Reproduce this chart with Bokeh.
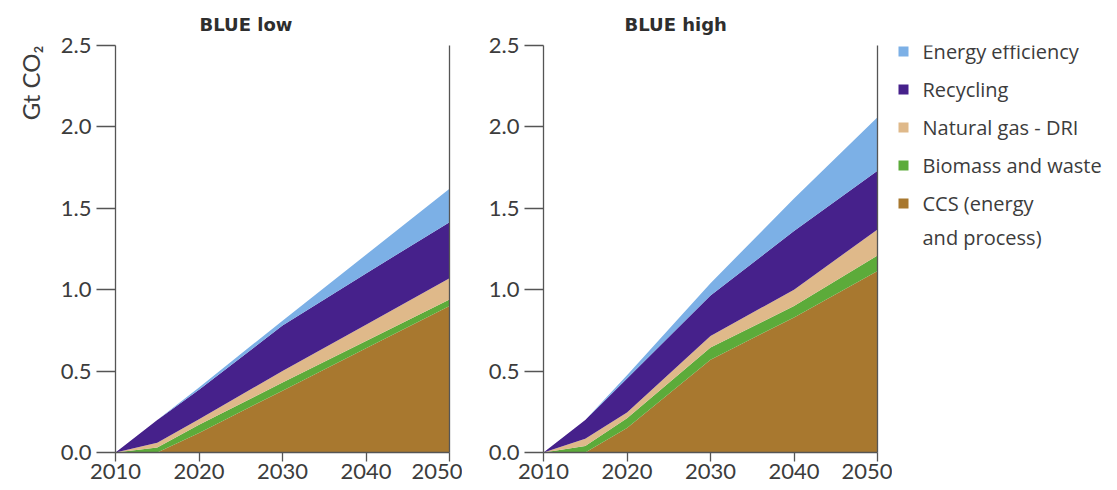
from bokeh.plotting import figure
from bokeh.models import (ColumnDataSource, Range1d, LinearAxis, Title, FixedTicker,
                          PrintfTickFormatter)
from bokeh.core.properties import value
from bokeh.layouts import row
from bokeh.embed import file_html
from bokeh.resources import INLINE

years = [2010, 2015, 2020, 2030, 2040, 2050]

series_keys = ["ccs", "biomass", "gas_dri", "recycling", "efficiency"]
series_names = ["CCS (energy\nand process)", "Biomass and waste", "Natural gas - DRI",
                "Recycling", "Energy efficiency"]
series_colors = ["#a8782f", "#5cab3a", "#dfb98a", "#46218b", "#7cb0e6"]

# BLUE low: emission reductions by option, Gt CO2 (stacked from the bottom)
low_ccs = [0.00, 0.00, 0.12, 0.38, 0.64, 0.90]
low_biomass = [0.00, 0.03, 0.05, 0.05, 0.045, 0.04]
low_gas_dri = [0.00, 0.03, 0.035, 0.07, 0.10, 0.13]
low_recycling = [0.00, 0.14, 0.18, 0.28, 0.315, 0.345]
low_efficiency = [0.00, 0.00, 0.015, 0.03, 0.115, 0.205]

# BLUE high
high_ccs = [0.00, 0.00, 0.15, 0.57, 0.83, 1.115]
high_biomass = [0.00, 0.04, 0.06, 0.075, 0.07, 0.095]
high_gas_dri = [0.00, 0.045, 0.035, 0.07, 0.10, 0.16]
high_recycling = [0.00, 0.115, 0.21, 0.25, 0.36, 0.36]
high_efficiency = [0.00, 0.00, 0.02, 0.075, 0.20, 0.33]

x_ticks = [2010, 2020, 2030, 2040, 2050]
y_ticks = [0.0, 0.5, 1.0, 1.5, 2.0, 2.5]

FONT = "Lato"
TXT = "#3c3c3c"
AXC = "#555555"
FRAME_TOP, FRAME_BOTTOM = 45, 452


def make_source(cols):
    data = dict(year=years)
    data.update({k: v for k, v in zip(series_keys, cols)})
    return ColumnDataSource(data)


def make_panel(title, src, left, right, title_offset):
    p = figure(width=left + 334 + right, height=490, frame_width=334,
               frame_height=FRAME_BOTTOM - FRAME_TOP,
               output_backend="svg", toolbar_location=None,
               x_range=Range1d(2010, 2050), y_range=Range1d(0, 2.5),
               min_border_left=left, min_border_right=right,
               min_border_top=FRAME_TOP, min_border_bottom=490 - FRAME_BOTTOM)
    p.outline_line_color = None
    p.xgrid.visible = False
    p.ygrid.visible = False
    p.background_fill_color = "white"
    p.border_fill_color = "white"

    p.varea_stack(stackers=series_keys, x="year", color=series_colors, source=src)

    for ax in (p.xaxis[0], p.yaxis[0]):
        ax.axis_line_color = AXC
        ax.axis_line_width = 1.3
        ax.major_tick_line_color = AXC
        ax.major_tick_line_width = 1.3
        ax.minor_tick_line_color = None
        ax.major_tick_in = 0
        ax.major_label_text_font = FONT
        ax.major_label_text_font_size = "22px"
        ax.major_label_text_color = TXT
    p.xaxis.ticker = FixedTicker(ticks=x_ticks)
    p.xaxis.major_tick_out = 9
    p.xaxis.major_label_standoff = 2
    p.yaxis.ticker = FixedTicker(ticks=y_ticks)
    p.yaxis.formatter = PrintfTickFormatter(format="%.1f")
    p.yaxis.major_tick_out = 19
    p.yaxis.major_label_standoff = 5

    edge = LinearAxis(ticker=FixedTicker(ticks=[]), axis_line_color=AXC,
                      axis_line_width=1.3, major_tick_out=0, major_tick_in=0,
                      major_label_standoff=0, major_label_text_font_size="0px",
                      minor_tick_line_color=None)
    p.add_layout(edge, "right")

    p.title = Title(text=title, align="left", offset=title_offset,
                    text_font="DejaVu Sans", text_font_style="bold",
                    text_font_size="18px", text_color="#2e2e2e", standoff=22)
    return p


src_low = make_source([low_ccs, low_biomass, low_gas_dri, low_recycling, low_efficiency])
src_high = make_source([high_ccs, high_biomass, high_gas_dri, high_recycling,
                        high_efficiency])

p_low = make_panel("BLUE low", src_low, 113, 13, 84)
p_low.add_layout(Title(text="Gt CO\u2082", align="right", text_font=FONT,
                       text_font_size="24px", text_font_style="normal",
                       text_color=TXT, standoff=26), "left")

p_high = make_panel("BLUE high", src_high, 81, 15, 81)

# Key panel: one swatch and name per option, top entry first.
# The row lines its frame up with the charts' frames, so its ranges are
# set in page pixels over that span, y growing downwards.
p_key = figure(width=227, height=490, title=None,
               output_backend="svg", toolbar_location=None,
               x_axis_type=None, y_axis_type=None,
               x_range=Range1d(0, 227), y_range=Range1d(FRAME_BOTTOM, FRAME_TOP),
               min_border=0, outline_line_color=None)
p_key.xgrid.visible = False
p_key.ygrid.visible = False

ROW0, ROW_STEP, LINE_STEP = 51, 38, 34
order = list(range(len(series_keys)))[::-1]
key_y = [ROW0 + ROW_STEP * k for k in range(len(order))]
first_lines = [series_names[i].split("\n")[0] for i in order]
key_src = ColumnDataSource(dict(
    x=[11] * len(order), tx=[30] * len(order), y=key_y,
    color=[series_colors[i] for i in order], label=first_lines))
p_key.scatter(x="x", y="y", marker="square", size=10, fill_color="color",
              line_color=None, source=key_src)
p_key.text(x="tx", y="y", text="label", text_font=value("Open Sans"),
           text_font_size="20px", text_color=TXT, text_baseline="middle",
           source=key_src)

# continuation lines of wrapped names
cont = [(key_y[k], series_names[i].split("\n")[1])
        for k, i in enumerate(order) if "\n" in series_names[i]]
cont_src = ColumnDataSource(dict(tx=[30] * len(cont),
                                 y=[yy + LINE_STEP for yy, _ in cont],
                                 label=[t for _, t in cont]))
p_key.text(x="tx", y="y", text="label", text_font=value("Open Sans"),
           text_font_size="20px", text_color=TXT, text_baseline="middle",
           source=cont_src)

layout = row(p_low, p_high, p_key)
open("out.html", "w").write(file_html(layout, INLINE))
